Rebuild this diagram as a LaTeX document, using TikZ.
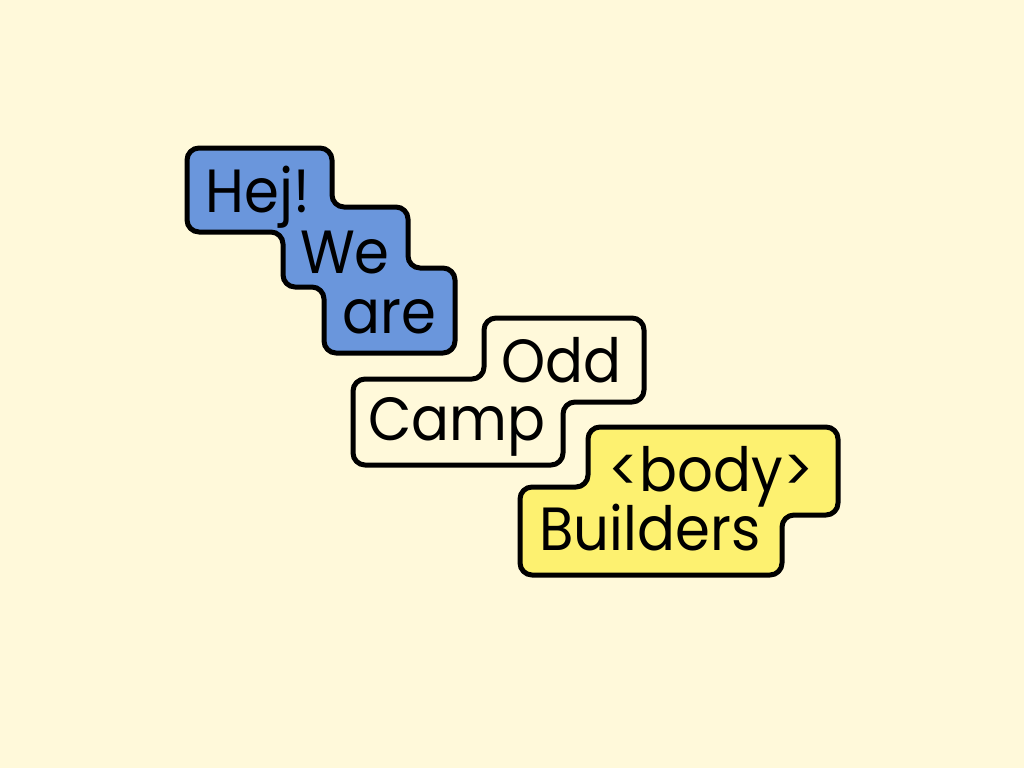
\documentclass[tikz,border=0pt]{standalone}
\usepackage{fontspec}
\newfontfamily\oddfont[FakeStretch=0.92]{Poppins}
\usetikzlibrary{positioning}
\definecolor{cream}{RGB}{255,249,218}
\definecolor{hejblue}{RGB}{106,150,220}
\definecolor{bodyyellow}{RGB}{253,241,112}

\begin{document}
\begin{tikzpicture}[x=1pt,y=-1pt,line width=5pt,line join=round,
					font=\oddfont\fontsize{61}{66}\selectfont]
					\tikzstyle{every tile}=[draw=black,rounded corners=12pt]
					\tikzstyle{word}=[anchor=base,inner sep=0pt,text=black]
					
					\path[fill=cream,use as bounding box] (0,0) rectangle (1024,768);
					
					\path[every tile,fill=hejblue] (260,148) -- (332,148) -- (332,207) -- (408,207) -- (408,268)
					-- (455,268) -- (455,353) -- (324,353) -- (324,287) -- (283,287) -- (283,232)
					-- (187,232) -- (187,148) -- cycle;
					\path[every tile,fill=cream] (560,318) -- (644,318) -- (644,402) -- (563,402) -- (563,465)
					-- (353,465) -- (353,379) -- (484,379) -- (484,318) -- cycle;
					\path[every tile,fill=bodyyellow] (700,427) -- (838,427) -- (838,515) -- (782,515) -- (782,575)
					-- (520,575) -- (520,487) -- (588,487) -- (588,427) -- cycle;
					
					\node[word] (W_0) at (258,212) {Hej!};
					\node[word] (W_1) at (345,273) {We};
					\node[word] (W_2) at (389,333) {are};
					\node[word] (W_3) at (561,382) {Odd};
					\node[word] (W_4) at (457,440) {Camp};
					\node[word] (W_5) at (711,491) {<body>};
					\node[word] (W_6) at (650,550) {Builders};
					\end{tikzpicture}
\end{document}
